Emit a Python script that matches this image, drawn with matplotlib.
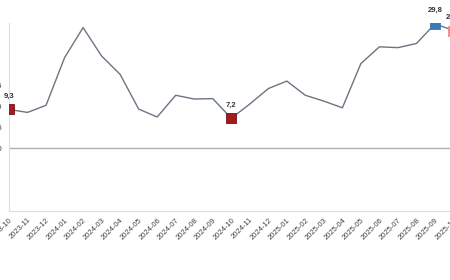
import matplotlib
matplotlib.use("Agg")
import matplotlib.pyplot as plt

months = ["2023-10", "2023-11", "2023-12", "2024-01", "2024-02", "2024-03", "2024-04",
          "2024-05", "2024-06", "2024-07", "2024-08", "2024-09", "2024-10", "2024-11",
          "2024-12", "2025-01", "2025-02", "2025-03", "2025-04", "2025-05", "2025-06",
          "2025-07", "2025-08", "2025-09", "2025-10"]
values = [9.3, 8.6, 10.3, 21.7, 28.9, 22.1, 17.7, 9.4, 7.5, 12.7, 11.8, 11.9, 7.2,
          10.6, 14.3, 16.1, 12.7, 11.3, 9.7, 20.3, 24.3, 24.1, 25.1, 29.8, 28.2]
yticks = [-15, -10, -5, 0, 5, 10, 15, 20, 25, 30]

# highlighted points: index -> colour
marked = {0: "#a31a1f", 12: "#a31a1f", 23: "#3b78b8", 24: "#f08a8a"}

plt.rcParams['font.family'] = ['Liberation Sans', 'DejaVu Sans']

fig = plt.figure(figsize=(4.5, 2.8), dpi=100)
ax = fig.add_axes([9/450, 69/280, 444.5/450, 188/280])

x = list(range(len(months)))
ax.plot(x, values, color="#6b7580", lw=1.0, zorder=2)
ax.axhline(0, color="#b0b0b0", lw=1.0, zorder=1)

for i, c in marked.items():
    ax.plot(x[i], values[i], marker="s", ms=6.5, color=c, mec="#7a1014" if c == "#a31a1f" else c,
            mew=0.6, zorder=3)
    ax.annotate(f"{values[i]:.1f}".replace(".", ","), (x[i], values[i]),
                xytext=(0, 7), textcoords="offset points", ha="center", va="bottom",
                fontsize=5.5, fontweight="bold", color="#333333")

ax.set_xlim(0, 24)
ax.set_ylim(-15, 30)
ax.set_yticks(yticks)
ax.set_yticklabels([str(v) for v in yticks], fontsize=6, color="#444444")
ax.set_xticks(x)
ax.set_xticklabels(months, rotation=45, ha="right", va="top", rotation_mode="anchor",
                   fontsize=5.5, color="#444444")
ax.tick_params(axis="y", length=0, pad=5.5)
ax.tick_params(axis="x", length=0, pad=4)

for s in ["top", "right"]:
    ax.spines[s].set_visible(False)
ax.spines["left"].set_color("#dddddd")
ax.spines["bottom"].set_color("#dddddd")
ax.spines["left"].set_linewidth(0.8)
ax.spines["bottom"].set_linewidth(0.8)

fig.savefig("out.png", dpi=100)
